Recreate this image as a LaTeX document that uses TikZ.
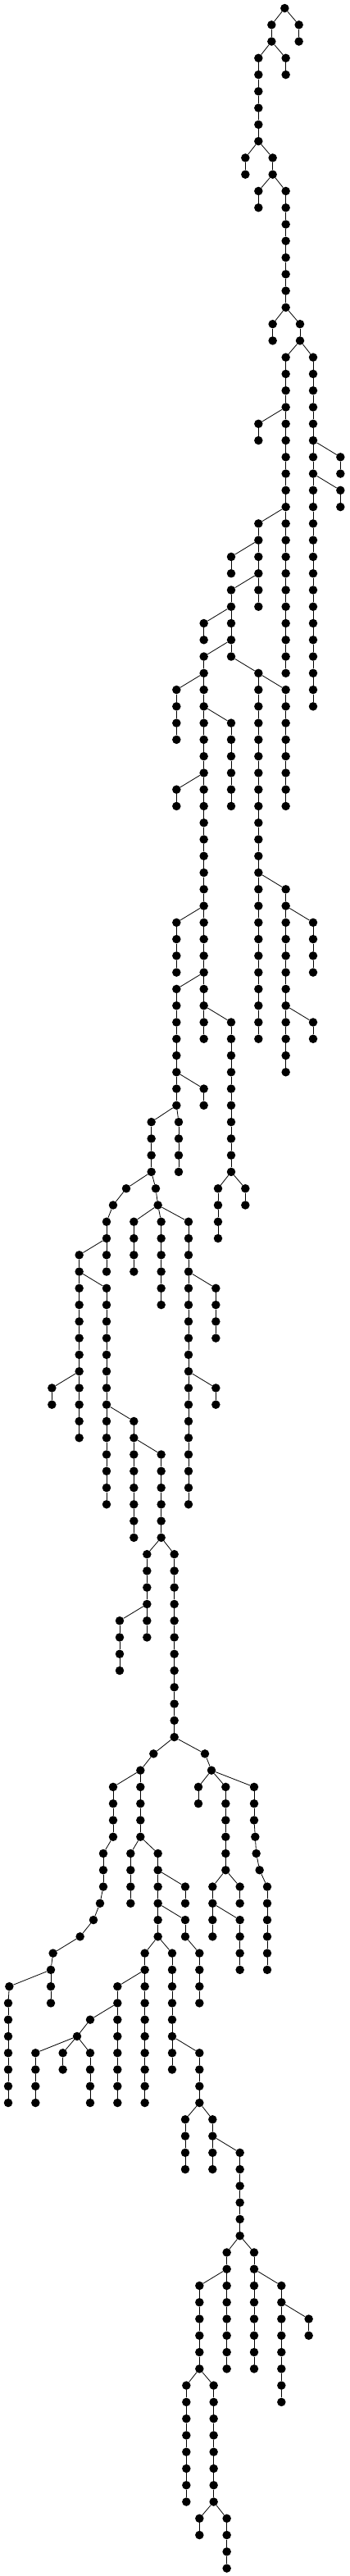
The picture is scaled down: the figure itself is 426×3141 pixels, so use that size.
\documentclass[tikz,border=0pt]{standalone}
\usepackage{tikz}
\tikzset{
  dot/.style={circle, fill=black, draw=none, inner sep=0pt, minimum size=10.5pt},
  link/.style={line width=0.8pt, black}
}
\newcommand\tchain[3]{%
  \foreach \L in {#2,...,#3}{\node[dot] (n#1-\L) at (#1/3,-10-20.27*\L) {};}%
  \ifnum#2<#3\relax
    \pgfmathtruncatemacro\tlast{#3-1}%
    \foreach \L in {#2,...,\tlast}{\pgfmathtruncatemacro\tn{\L+1}\draw[link] (n#1-\L) -- (n#1-\tn);}%
  \fi}
\newcommand\tbr[3]{\pgfmathtruncatemacro\tn{#2+1}\draw[link] (n#1-#2) -- (n#3-\tn);}
\begin{document}
\begin{tikzpicture}[x=1pt,y=1pt]
\useasboundingbox[fill=white] (0,0) rectangle (426,-3141);
% chains
\tchain{1042}{0}{0}
\tchain{994}{1}{2}
\tchain{1094}{1}{2}
\tchain{946}{3}{8}
\tchain{1046}{3}{4}
\tchain{898}{9}{10}
\tchain{998}{9}{10}
\tchain{946}{11}{12}
\tchain{1046}{11}{18}
\tchain{998}{19}{20}
\tchain{1098}{19}{20}
\tchain{1046}{21}{40}
\tchain{1146}{21}{42}
\tchain{946}{25}{26}
\tchain{1246}{27}{28}
\tchain{1246}{29}{30}
\tchain{946}{31}{36}
\tchain{846}{33}{34}
\tchain{846}{35}{39}
\tchain{746}{37}{38}
\tchain{746}{39}{62}
\tchain{946}{40}{62}
\tchain{646}{41}{44}
\tchain{1046}{41}{48}
\tchain{846}{43}{48}
\tchain{646}{47}{48}
\tchain{1046}{53}{64}
\tchain{646}{55}{58}
\tchain{1146}{55}{58}
\tchain{646}{59}{66}
\tchain{846}{61}{70}
\tchain{1146}{61}{62}
\tchain{746}{65}{66}
\tchain{554}{67}{70}
\tchain{654}{67}{70}
\tchain{462}{71}{71}
\tchain{570}{71}{71}
\tchain{798}{71}{74}
\tchain{898}{71}{72}
\tchain{414}{72}{72}
\tchain{578}{72}{72}
\tchain{390}{73}{76}
\tchain{490}{73}{76}
\tchain{590}{73}{78}
\tchain{690}{73}{90}
\tchain{290}{75}{86}
\tchain{390}{77}{90}
\tchain{790}{77}{80}
\tchain{190}{83}{84}
\tchain{790}{83}{84}
\tchain{490}{85}{92}
\tchain{590}{87}{92}
\tchain{538}{93}{98}
\tchain{638}{93}{104}
\tchain{438}{97}{100}
\tchain{562}{105}{105}
\tchain{750}{105}{105}
\tchain{514}{106}{110}
\tchain{774}{106}{106}
\tchain{414}{107}{110}
\tchain{726}{107}{108}
\tchain{826}{107}{112}
\tchain{930}{107}{109}
\tchain{934}{110}{110}
\tchain{378}{111}{113}
\tchain{478}{111}{114}
\tchain{578}{111}{116}
\tchain{938}{111}{111}
\tchain{950}{112}{112}
\tchain{678}{113}{114}
\tchain{778}{113}{116}
\tchain{878}{113}{114}
\tchain{978}{113}{118}
\tchain{366}{114}{114}
\tchain{342}{115}{115}
\tchain{678}{115}{116}
\tchain{878}{115}{118}
\tchain{293}{116}{116}
\tchain{194}{117}{117}
\tchain{530}{117}{126}
\tchain{630}{117}{124}
\tchain{730}{117}{120}
\tchain{186}{118}{120}
\tchain{34}{119}{119}
\tchain{430}{119}{126}
\tchain{30}{120}{126}
\tchain{330}{121}{121}
\tchain{282}{122}{122}
\tchain{130}{123}{126}
\tchain{230}{123}{124}
\tchain{330}{123}{126}
\tchain{730}{123}{126}
\tchain{678}{127}{130}
\tchain{778}{127}{130}
\tchain{878}{129}{134}
\tchain{830}{135}{142}
\tchain{930}{135}{142}
\tchain{730}{137}{142}
\tchain{1030}{137}{144}
\tchain{1130}{139}{140}
\tchain{682}{143}{150}
\tchain{782}{143}{150}
\tchain{730}{151}{152}
\tchain{830}{151}{154}
% branches
\tbr{1042}{0}{994}\tbr{1042}{0}{1094}
\tbr{994}{2}{946}\tbr{994}{2}{1046}
\tbr{946}{8}{898}\tbr{946}{8}{998}
\tbr{998}{10}{946}\tbr{998}{10}{1046}
\tbr{1046}{18}{998}\tbr{1046}{18}{1098}
\tbr{1098}{20}{1046}\tbr{1098}{20}{1146}
\tbr{1046}{24}{946}
\tbr{1146}{26}{1246}
\tbr{1146}{28}{1246}
\tbr{1046}{30}{946}
\tbr{946}{32}{846}
\tbr{946}{34}{846}
\tbr{846}{36}{746}
\tbr{846}{38}{746}
\tbr{846}{39}{946}
\tbr{746}{40}{646}
\tbr{946}{40}{1046}
\tbr{746}{42}{846}
\tbr{746}{46}{646}
\tbr{946}{52}{1046}
\tbr{746}{54}{646}
\tbr{1046}{54}{1146}
\tbr{746}{58}{646}
\tbr{746}{60}{846}
\tbr{1046}{60}{1146}
\tbr{646}{64}{746}
\tbr{646}{66}{554}\tbr{646}{66}{654}
\tbr{554}{70}{462}\tbr{554}{70}{570}
\tbr{846}{70}{798}\tbr{846}{70}{898}
\tbr{462}{71}{414}
\tbr{570}{71}{578}
\tbr{414}{72}{390}
\tbr{578}{72}{490}\tbr{578}{72}{590}\tbr{578}{72}{690}
\tbr{390}{74}{290}
\tbr{290}{76}{390}
\tbr{690}{76}{790}
\tbr{290}{82}{190}
\tbr{690}{82}{790}
\tbr{390}{84}{490}
\tbr{490}{86}{590}
\tbr{590}{92}{538}\tbr{590}{92}{638}
\tbr{538}{96}{438}
\tbr{638}{104}{562}\tbr{638}{104}{750}
\tbr{562}{105}{514}
\tbr{750}{105}{774}
\tbr{514}{106}{414}
\tbr{774}{106}{726}\tbr{774}{106}{826}\tbr{774}{106}{930}
\tbr{930}{109}{934}
\tbr{414}{110}{378}
\tbr{514}{110}{478}\tbr{514}{110}{578}
\tbr{934}{110}{938}
\tbr{938}{111}{950}
\tbr{578}{112}{678}
\tbr{826}{112}{778}\tbr{826}{112}{878}
\tbr{950}{112}{978}
\tbr{378}{113}{366}
\tbr{578}{114}{678}
\tbr{778}{114}{878}
\tbr{366}{114}{342}
\tbr{342}{115}{293}
\tbr{293}{116}{194}
\tbr{578}{116}{530}\tbr{578}{116}{630}
\tbr{678}{116}{730}
\tbr{194}{117}{186}
\tbr{186}{118}{34}
\tbr{530}{118}{430}
\tbr{34}{119}{30}
\tbr{430}{120}{330}
\tbr{330}{121}{282}
\tbr{282}{122}{130}\tbr{282}{122}{230}\tbr{282}{122}{330}
\tbr{630}{122}{730}
\tbr{730}{126}{678}\tbr{730}{126}{778}
\tbr{778}{128}{878}
\tbr{878}{134}{830}\tbr{878}{134}{930}
\tbr{830}{136}{730}
\tbr{930}{136}{1030}
\tbr{1030}{138}{1130}
\tbr{730}{142}{682}\tbr{730}{142}{782}
\tbr{782}{150}{730}\tbr{782}{150}{830}
\end{tikzpicture}
\end{document}
